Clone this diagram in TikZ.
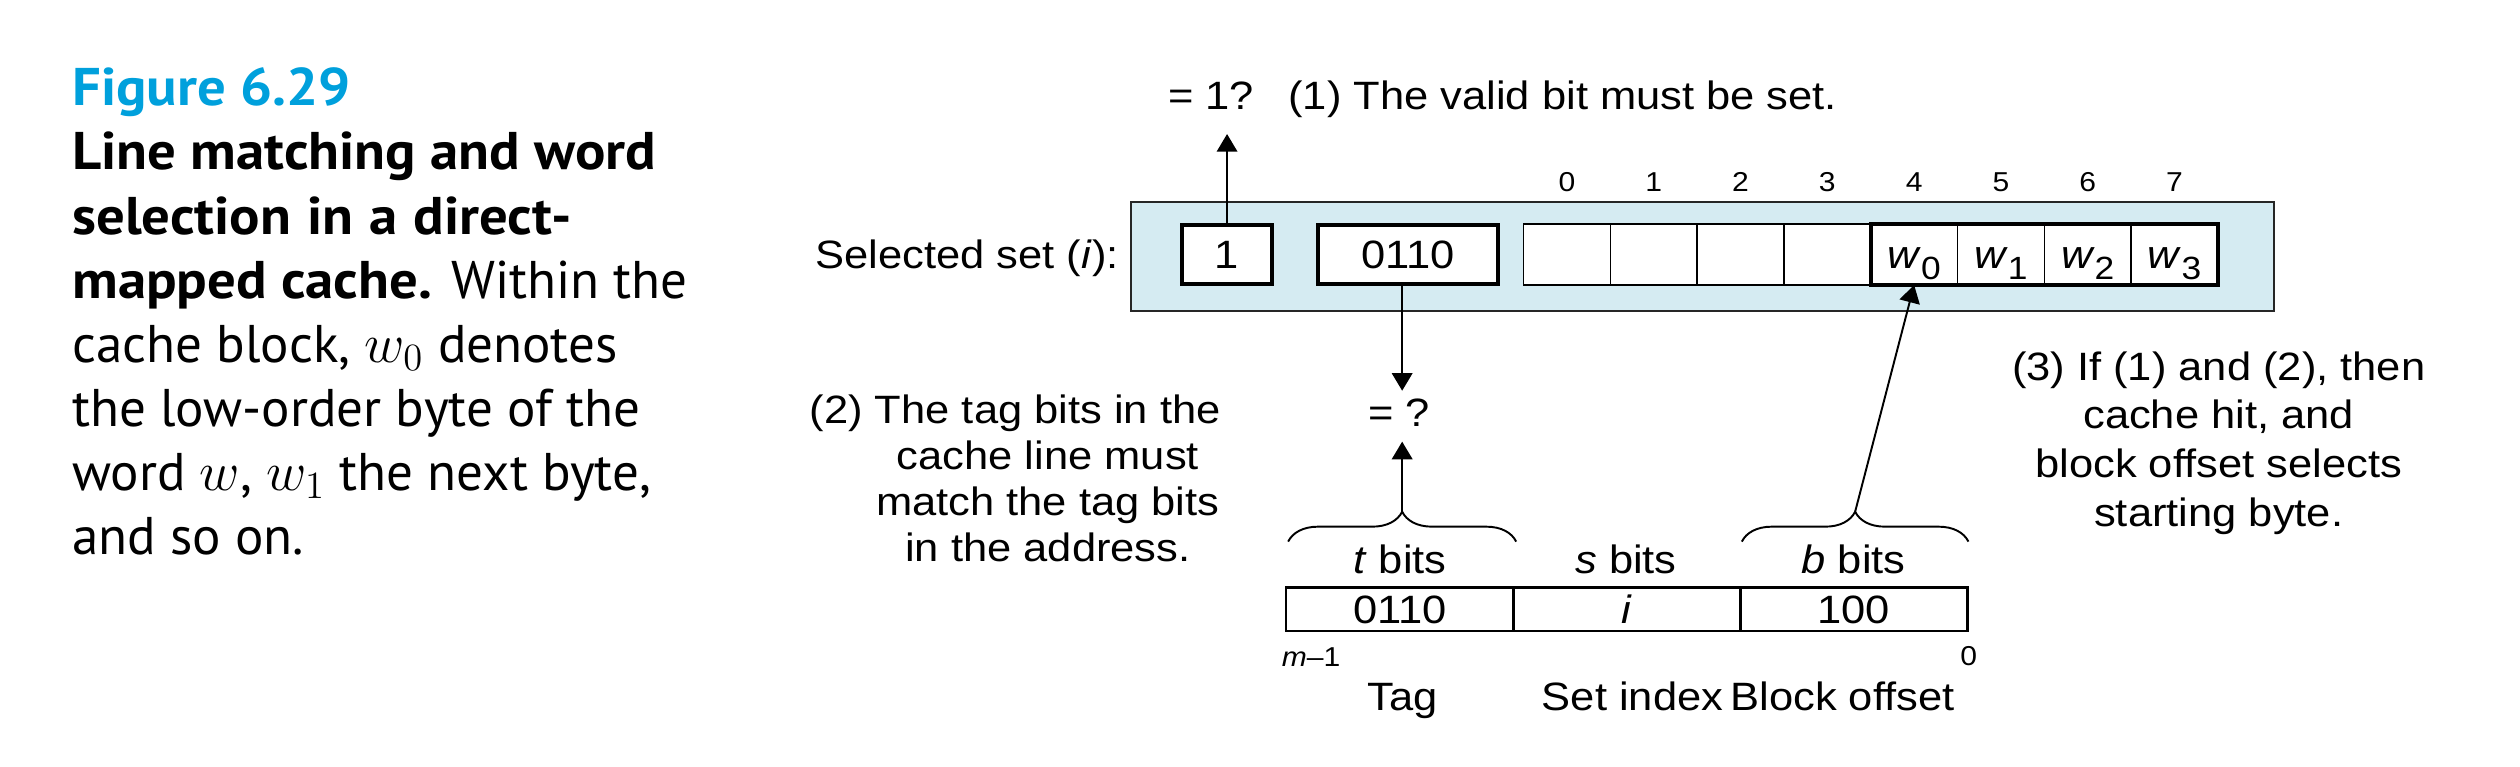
\documentclass[tikz,border=0pt]{standalone}
\usepackage{fontspec}
\setmainfont{Liberation Sans}
\newfontfamily\dfont[FakeStretch=1.1]{Liberation Sans}
\newfontfamily\capfont[BoldFeatures={FakeStretch=1.07}]{PT Sans}
\usetikzlibrary{arrows.meta,decorations.pathreplacing}
\definecolor{figblue}{RGB}{0,160,220}
\definecolor{setblue}{RGB}{213,235,242}
\newcommand{\wsub}[1]{\textit{w}\raisebox{-3.5pt}{\fontsize{10}{10}\selectfont #1}}
\begin{document}
\begin{tikzpicture}[x=0.5pt, y=-0.5pt,
  every node/.style={inner sep=0pt, outer sep=0pt},
  dtext/.style={font=\dfont\fontsize{12.3}{14.3}\selectfont},
  small/.style={font=\dfont\fontsize{8.5}{9}\selectfont},
  arr/.style={-{Triangle[length=5.5pt,width=6.4pt]}, line width=0.6pt},
  bitbox/.style={draw, line width=1.25pt, fill=white, dtext, text height=8.8pt, text depth=0pt, minimum height=18.45pt},
  cell/.style={draw, line width=0.5pt, fill=white, minimum width=27pt, minimum height=19pt, dtext, text height=8.8pt, text depth=0pt},
  addr/.style={draw, line width=0.7pt, minimum width=70.65pt, minimum height=13.5pt, dtext, text height=8.8pt, text depth=0pt},
  brc/.style={decorate, decoration={brace, amplitude=9.3pt}, line width=0.6pt},
]
\path[use as bounding box] (0,0) rectangle (1568,477);

% caption (anchor base = baseline of last line)
\node[anchor=base west, align=left, font=\capfont\fontsize{16.5}{19.93}\selectfont] (cap) at (45,344.9)
 {{\color{figblue}\bfseries Figure 6.29}\\
  \textbf{Line matching and word}\\
  \textbf{selection\hspace{0.3em}in\hspace{0.3em}a\hspace{0.3em}direct-}\\
  \textbf{mapped cache.} Within the\\
  cache block, $w_0$ denotes\\
  the low-order byte of the\\
  word $w$, $w_1$ the next byte,\\
  and so on.};

% selected set
\node[draw=black!85, line width=0.6pt, fill=setblue, minimum width=355.75pt, minimum height=34pt] (set) at (1059.25,159.5) {};
\node[dtext, anchor=base east] (sel) at (696,167.3) {Selected set (\textit{i}):};
\node[bitbox, minimum width=28.25pt] (valid) at (763.5,158.3) {1};
\node[bitbox, minimum width=56.1pt] (tag) at (876,158.3) {0110};
\node[cell] (c0) at (975,158.3) {};
\node[cell] (c1) at (1029,158.3) {};
\node[cell] (c2) at (1083,158.3) {};
\node[cell] (c3) at (1137,158.3) {};
\node[cell] (c4) at (1191,158.3) {\wsub{0}};
\node[cell] (c5) at (1245,158.3) {\wsub{1}};
\node[cell] (c6) at (1299,158.3) {\wsub{2}};
\node[cell] (c7) at (1353,158.3) {\wsub{3}};
\draw[line width=1.25pt] (c4.north west) rectangle (c7.south east);
\foreach \i in {0,...,7} \node[small, anchor=base] (n\i) at ({975+54*\i},119.3) {\i};

% top annotation
\node[dtext, anchor=base] (q1) at (753.5,68.4) {= 1?};
\node[dtext, anchor=base west] (note1) at (801.7,68.4) {(1) The valid bit must be set.};
\coordinate (vtip) at (763.5,83.4);
\draw[arr] (valid.north) -- (vtip);

% braces
\coordinate (tL) at (801.5,337); \coordinate (tR) at (943.4,337);
\coordinate (bL) at (1083.8,337); \coordinate (bR) at (1224.8,337);
\coordinate (ttip) at (872.45,318.4);
\coordinate (btip) at (1154.3,318.4);
\draw[brc] (tL) -- (tR);
\draw[brc] (bL) -- (bR);

% tag comparison
\node[dtext, anchor=base] (eqq) at (870.7,265.5) {= ?};
\draw[arr, shorten >=2.6pt] (tag.south -| ttip) -- (eqq.north -| ttip);
\draw[arr, shorten >=4.65pt] (ttip) -- (eqq.south -| ttip);
\draw[arr] (btip) -- (c4.south);

% address
\node[dtext, anchor=base] (tb) at (871,356.8) {\textit{t} bits};
\node[dtext, anchor=base] (sb) at (1011.7,356.8) {\textit{s} bits};
\node[dtext, anchor=base] (bb) at (1153.3,356.8) {\textit{b} bits};
\node[addr] (a1) at (871,379) {0110};
\node[addr] (a2) at (1012.25,379) {\textit{i}};
\node[addr] (a3) at (1153.5,379) {100};
\node[small, anchor=base west] (mm) at (797.6,414.8) {\textit{m}–1};
\node[small, anchor=base] (zz) at (1225,413.8) {0};
\node[dtext, anchor=base] (ftag) at (872.8,441.8) {Tag};
\node[dtext, anchor=base] (fset) at (1015.8,441.8) {Set index};
\node[dtext, anchor=base] (foff) at (1146.5,441.8) {Block offset};

% notes (anchor base = baseline of last line)
\node[dtext, align=center, anchor=base] (note2) at (652,349.5) {\llap{(2) }The tag bits in the\\cache line must\\match the tag bits\\in the address.};
\node[dtext, align=center, anchor=base, font=\dfont\fontsize{12.3}{15.2}\selectfont] (note3) at (1380.5,327.7) {(3) If (1) and (2), then\\cache hit, and\\block offset selects\\starting byte.};
\end{tikzpicture}
\end{document}
